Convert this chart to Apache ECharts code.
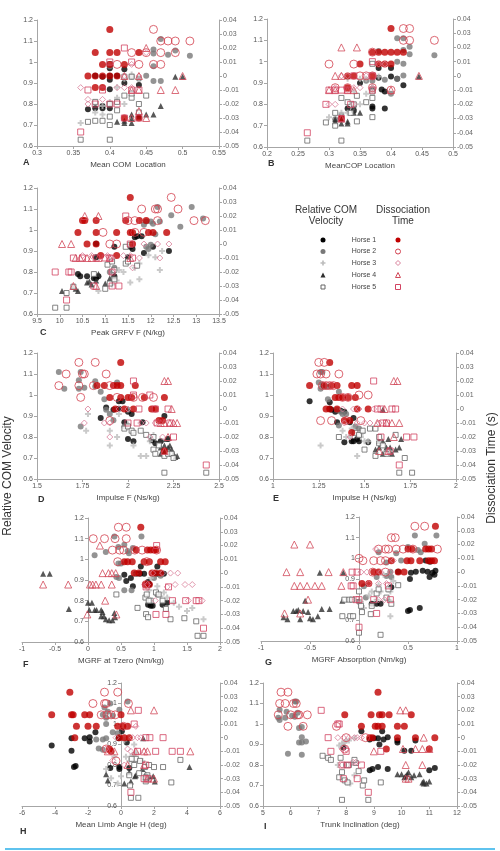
<!DOCTYPE html>
<html>
<head>
<meta charset="utf-8">
<script src="https://cdn.jsdelivr.net/npm/echarts@6/dist/echarts.min.js"></script>
<style>
html, body { margin: 0; padding: 0; background: #fff; }
#chart { width: 500px; height: 851px; }
</style>
</head>
<body>
<div id="chart"></div>
<script>
// ---- x axis ticks per panel: [min, max, interval] ----
const ticksA = [0.3, 0.55, 0.05], ticksB = [0.2, 0.5, 0.05], ticksC = [9.5, 13.5, 0.5]
const ticksD = [1.5, 2.5, 0.25], ticksE = [1, 2, 0.25], ticksF = [-1, 2, 0.5]
const ticksG = [-1, 1, 0.5], ticksH = [-6, 6, 2], ticksI = [5, 12, 1]
const velTicks = [0.6, 1.2, 0.1]       // Relative COM Velocity (left)
const timeTicks = [-0.05, 0.04, 0.01]  // Dissociation Time (right)

const xNames = ['Mean COM  Location', 'MeanCOP Location', 'Peak GRFV F (N/kg)', 'Impulse F (Ns/kg)',
  'Impulse H (Ns/kg)', 'MGRF at Tzero (Nm/kg)', 'MGRF Absorption (Nm/kg)', 'Mean Limb Angle H (deg)', 'Trunk Inclination (deg)']
const letters = ['A', 'B', 'C', 'D', 'E', 'F', 'G', 'H', 'I']
const horses = ['Horse 1', 'Horse 2', 'Horse 3', 'Horse 4', 'Horse 5']

// ---- A: Mean COM location ----
const aV1 = [[0.38,0.78],[0.37,0.775],[0.39,0.79],[0.39,0.78],[0.40,0.78],[0.38,0.935],[0.40,0.935],[0.40,0.915],[0.40,0.87],[0.40,0.97],[0.42,0.965],[0.42,0.90],[0.44,0.89],[0.41,0.935],[0.39,0.93]]
const aT1 = [[0.40,0.0333],[0.38,0.0167],[0.40,0.0167],[0.41,0.0167],[0.44,0.0167],[0.39,0.0083],[0.40,0.0083],[0.42,0.0083],[0.37,0],[0.38,0],[0.39,0],[0.40,0],[0.41,0],[0.38,-0.0083],[0.39,-0.0083],[0.42,-0.03],[0.44,-0.03]]
const aV2 = [[0.46,1.06],[0.46,1.04],[0.47,1.11],[0.49,1.055],[0.51,1.03],[0.48,1.035],[0.46,0.98],[0.45,0.935],[0.46,0.91],[0.47,0.91],[0.44,0.92],[0.43,0.93],[0.40,0.98]]
const aT2 = [[0.46,0.0333],[0.47,0.025],[0.48,0.025],[0.49,0.025],[0.51,0.025],[0.43,0.0167],[0.45,0.0167],[0.47,0.0167],[0.49,0.0167],[0.44,0.0083],[0.46,0.0083],[0.47,0.0083],[0.41,0.0083]]
const aV3 = [[0.36,0.71],[0.39,0.75],[0.38,0.76],[0.40,0.81],[0.41,0.83],[0.42,0.80],[0.42,0.92],[0.43,0.94],[0.44,0.92],[0.41,0.88],[0.39,0.79]]
const aT3 = [[0.36,-0.0083],[0.37,-0.0167],[0.39,-0.0167],[0.41,-0.0083],[0.42,-0.0083],[0.43,-0.0083],[0.44,0],[0.45,0.0167],[0.42,0],[0.43,0.0083],[0.37,-0.02]]
const aV4 = [[0.41,0.715],[0.42,0.71],[0.42,0.72],[0.43,0.73],[0.43,0.75],[0.44,0.75],[0.45,0.75],[0.46,0.75],[0.47,0.79],[0.49,0.93],[0.50,0.93],[0.44,0.74],[0.43,0.71]]
const aT4 = [[0.42,0],[0.43,-0.01],[0.44,-0.01],[0.44,0],[0.45,0.02],[0.47,-0.01],[0.49,-0.01],[0.50,0],[0.45,-0.03],[0.43,-0.03],[0.44,-0.025]]
const aV5 = [[0.36,0.63],[0.37,0.715],[0.38,0.72],[0.39,0.72],[0.40,0.70],[0.40,0.74],[0.40,0.63],[0.38,0.81],[0.41,0.77],[0.41,0.81],[0.42,0.84],[0.43,0.83],[0.44,0.76],[0.44,0.80],[0.45,0.84],[0.42,0.93],[0.43,0.93],[0.43,0.85],[0.40,0.80],[0.40,0.99]]
const aT5 = [[0.36,-0.04],[0.37,-0.01],[0.38,-0.02],[0.40,-0.02],[0.41,-0.02],[0.42,0.02],[0.43,0.01],[0.43,-0.01],[0.44,-0.01],[0.40,0.01],[0.42,-0.03],[0.44,-0.03],[0.39,-0.01]]

// ---- B: Mean COP location ----
const bV1 = [[0.33,0.78],[0.34,0.77],[0.35,0.90],[0.37,0.79],[0.37,0.78],[0.37,0.87],[0.38,0.97],[0.385,0.87],[0.39,0.78],[0.38,0.925],[0.40,0.93],[0.40,0.97],[0.41,0.92],[0.42,0.89],[0.39,0.86]]
const bT1 = [[0.40,0.0333],[0.37,0.0167],[0.38,0.0167],[0.39,0.0167],[0.40,0.0167],[0.41,0.0167],[0.42,0.0167],[0.35,0.0083],[0.38,0.0083],[0.39,0.0083],[0.40,0.0083],[0.33,0],[0.34,0],[0.37,0],[0.33,-0.0083],[0.32,-0.03]]
const bV2 = [[0.41,1.11],[0.42,1.11],[0.43,1.07],[0.42,1.055],[0.38,1.05],[0.41,1.0],[0.42,0.99],[0.43,1.035],[0.47,1.03],[0.39,0.915],[0.41,0.92],[0.42,0.935],[0.40,0.85],[0.36,0.91],[0.37,0.91],[0.31,0.73],[0.32,0.75]]
const bT2 = [[0.42,0.0333],[0.43,0.0333],[0.42,0.025],[0.43,0.025],[0.47,0.025],[0.37,0.0167],[0.30,0.0083],[0.34,0.0083],[0.35,0],[0.36,0],[0.37,0],[0.33,-0.0083],[0.31,-0.0083],[0.37,-0.0083],[0.40,-0.01]]
const bV3 = [[0.30,0.74],[0.32,0.76],[0.33,0.76],[0.34,0.79],[0.35,0.80],[0.36,0.85],[0.33,0.92],[0.35,0.92],[0.37,0.88],[0.38,0.93],[0.34,0.86],[0.36,0.92]]
const bT3 = [[0.30,-0.02],[0.31,-0.02],[0.31,-0.0083],[0.32,0],[0.33,0],[0.34,-0.0083],[0.35,-0.0083],[0.36,0],[0.37,-0.0083],[0.38,0.0083],[0.39,0.0083],[0.34,-0.02]]
const bV4 = [[0.31,0.72],[0.32,0.71],[0.33,0.71],[0.33,0.72],[0.34,0.76],[0.34,0.79],[0.35,0.76],[0.31,0.73],[0.32,0.73],[0.445,0.93],[0.34,0.80]]
const bT4 = [[0.32,0.02],[0.345,0.02],[0.31,0],[0.32,0],[0.33,-0.01],[0.31,-0.01],[0.34,-0.01],[0.30,-0.01],[0.445,0],[0.40,-0.01],[0.32,-0.03]]
const bV5 = [[0.265,0.63],[0.295,0.715],[0.31,0.70],[0.31,0.76],[0.32,0.63],[0.32,0.83],[0.33,0.81],[0.34,0.80],[0.345,0.84],[0.345,0.72],[0.36,0.81],[0.37,0.74],[0.37,0.83],[0.37,0.86],[0.37,0.99],[0.335,0.76]]
const bT5 = [[0.265,-0.04],[0.295,-0.02],[0.30,-0.01],[0.31,-0.01],[0.32,-0.01],[0.33,-0.01],[0.335,-0.02],[0.37,0.01],[0.37,0],[0.34,0],[0.37,-0.01],[0.32,-0.03]]

// ---- C: Peak GRFV F ----
const cV1 = [[10.4,0.79],[10.45,0.78],[10.6,0.78],[10.75,0.77],[10.8,0.77],[10.85,0.78],[10.8,0.87],[10.8,0.935],[11.2,0.92],[11.5,0.87],[11.55,0.92],[11.6,0.91],[11.7,0.97],[11.65,0.965],[11.8,0.97],[11.85,0.89],[12.05,0.92],[12.4,0.90],[11.2,0.78]]
const cT1 = [[11.55,0.0333],[10.5,0.0167],[10.55,0.0167],[10.8,0.0167],[11.45,0.0167],[11.75,0.0167],[11.9,0.0167],[10.4,0.0083],[10.8,0.0083],[11.25,0.0083],[11.55,0.0083],[11.6,0.0083],[11.95,0.0083],[12.05,0.0083],[12.35,0.0083],[10.6,0],[10.8,0],[11.6,0],[10.9,-0.0083],[11.25,-0.0083]]
const cV2 = [[12.15,1.11],[12.9,1.11],[13.15,1.055],[12.45,1.07],[12.65,1.015],[12.0,1.04],[12.05,1.03],[11.9,1.04],[11.85,1.025],[12.1,0.98],[12.2,1.04],[11.9,0.92],[11.95,0.91],[12.0,0.93],[11.1,0.80],[11.2,0.82]]
const cT2 = [[12.45,0.0333],[11.8,0.025],[12.1,0.025],[12.15,0.025],[12.6,0.025],[12.95,0.0167],[13.2,0.0167],[11.65,0.0167],[12.15,0.0167],[11.5,0.0167],[10.95,0.0083],[11.65,0.0083],[11.85,0.0083],[11.1,0],[11.25,0]]
const cV3 = [[10.85,0.71],[11.15,0.74],[11.25,0.76],[11.55,0.75],[11.75,0.765],[12.2,0.81],[11.3,0.81],[11.4,0.80],[11.65,0.82],[11.75,0.84],[12.1,0.87],[12.25,0.90],[11.95,0.88]]
const cT3 = [[10.7,-0.0083],[10.5,-0.0083],[11.05,-0.0083],[11.4,-0.0083],[11.15,-0.01],[11.6,-0.017],[11.75,-0.01],[11.85,0],[12.15,0],[12.2,-0.01],[12.4,0],[11.15,-0.02],[11.55,-0.0083]]
const cV4 = [[10.05,0.71],[10.3,0.73],[10.35,0.72],[10.4,0.71],[10.6,0.75],[10.65,0.755],[10.7,0.74],[10.8,0.76],[10.85,0.79],[11.0,0.745],[11.1,0.77],[11.2,0.78]]
const cT4 = [[10.55,0.02],[10.85,0.02],[10.05,0],[10.25,0],[10.35,-0.01],[10.45,-0.01],[10.6,-0.01],[10.7,-0.01],[10.85,-0.01],[11.1,-0.01],[11.55,-0.01],[10.3,-0.03],[10.8,-0.03]]
const cV5 = [[9.9,0.63],[10.15,0.63],[10.15,0.70],[10.3,0.73],[10.75,0.79],[11.0,0.72],[11.1,0.745],[11.05,0.835],[11.15,0.85],[11.2,0.81],[11.2,0.765],[11.45,0.84],[11.5,0.85],[11.7,0.83],[11.45,0.92],[11.55,0.93]]
const cT5 = [[9.9,-0.02],[10.15,-0.04],[10.2,-0.02],[10.25,-0.02],[10.3,-0.01],[10.5,-0.01],[10.8,-0.01],[11.0,-0.01],[11.1,-0.01],[10.75,-0.03],[11.15,-0.03],[11.3,-0.03],[11.45,0.02],[11.55,0],[11.15,-0.02],[11.6,-0.01]]

// ---- D: Impulse F ----
const dV1 = [[1.85,0.89],[1.88,0.94],[1.92,0.93],[1.95,0.935],[1.95,0.97],[1.97,0.97],[2.0,0.92],[2.02,0.91],[1.98,0.87],[2.0,0.79],[2.03,0.78],[2.08,0.87],[2.13,0.785],[2.18,0.78],[2.2,0.90],[2.22,0.79],[2.15,0.77]]
const dT1 = [[1.96,0.0333],[1.83,0.0167],[1.87,0.0167],[1.92,0.0167],[1.94,0.0167],[1.96,0.0167],[2.04,0.0167],[1.9,0.0083],[1.96,0.0083],[2.0,0.0083],[2.02,0.0083],[2.09,0.0083],[2.2,0.0083],[1.93,0],[1.98,0],[2.03,0],[2.13,0],[2.15,0],[2.17,-0.0083],[2.19,-0.0083],[2.2,-0.03]]
const dV2 = [[1.62,1.11],[1.65,1.03],[1.73,1.07],[1.74,1.11],[1.73,1.03],[1.76,1.035],[1.82,1.065],[1.82,1.04],[1.85,1.015],[1.87,0.98],[1.94,1.06],[1.74,0.85],[1.88,0.93],[1.9,0.91],[1.98,0.85],[2.0,0.93],[1.92,0.88]]
const dT2 = [[1.73,0.0333],[1.82,0.0333],[1.66,0.025],[1.75,0.025],[1.76,0.025],[1.88,0.025],[1.62,0.0167],[1.73,0.0167],[1.81,0.0167],[1.9,0.0167],[1.74,0.0083],[1.94,0.0083],[2.03,0.0083],[2.08,0.0083],[2.14,0.0083],[1.9,-0.0083]]
const dV3 = [[1.77,0.83],[1.78,0.91],[1.9,0.83],[1.9,0.76],[1.94,0.80],[2.03,0.76],[2.07,0.71],[2.1,0.71],[2.12,0.78],[1.95,0.91],[2.0,0.86],[2.14,0.81]]
const dT3 = [[1.78,0],[1.76,-0.01],[1.87,-0.01],[1.9,-0.01],[1.9,-0.02],[2.0,0],[2.07,-0.01],[2.1,-0.01],[2.12,-0.02],[2.15,-0.01],[2.19,-0.02],[1.95,0]]
const dV4 = [[2.18,0.72],[2.2,0.73],[2.22,0.75],[2.23,0.76],[2.25,0.72],[2.26,0.705],[2.27,0.71],[2.2,0.76],[2.18,0.75],[2.21,0.79],[2.24,0.74]]
const dT4 = [[2.2,0.02],[2.22,0.02],[2.24,0],[2.18,-0.01],[2.2,-0.01],[2.23,-0.01],[2.25,-0.01],[2.27,-0.01],[2.2,-0.03],[2.22,-0.02]]
const dV5 = [[1.98,0.84],[2.0,0.85],[2.02,0.83],[2.03,0.82],[2.07,0.83],[2.1,0.81],[2.14,0.74],[2.15,0.72],[2.17,0.76],[2.2,0.71],[2.2,0.63],[2.22,0.72],[2.24,0.72],[2.25,0.70],[2.43,0.63],[2.14,0.80]]
const dT5 = [[2.03,0.02],[2.03,0.01],[2.06,0],[2.12,0.01],[2.15,0],[2.16,-0.01],[2.22,0],[2.23,-0.01],[2.25,-0.02],[2.43,-0.04],[2.05,-0.01],[2.0,-0.01]]

// ---- E: Impulse H ----
const eV1 = [[1.2,0.97],[1.31,0.965],[1.31,0.935],[1.34,0.92],[1.35,0.87],[1.37,0.925],[1.39,0.92],[1.42,0.87],[1.44,0.89],[1.39,0.775],[1.43,0.78],[1.44,0.78],[1.46,0.79],[1.47,0.78],[1.52,0.775],[1.32,0.93]]
const eT1 = [[1.31,0.0333],[1.2,0.0167],[1.28,0.0167],[1.32,0.0167],[1.35,0.0167],[1.43,0.0167],[1.46,0.0167],[1.34,0.0083],[1.36,0.0083],[1.38,0.0083],[1.41,0.0083],[1.45,0.0083],[1.29,0],[1.31,0],[1.35,0],[1.46,0],[1.52,0],[1.39,-0.0083],[1.42,-0.0083],[1.43,-0.0167]]
const eV2 = [[1.26,1.11],[1.27,1.11],[1.25,1.06],[1.27,1.05],[1.28,1.04],[1.26,1.03],[1.3,1.04],[1.36,1.015],[1.3,0.98],[1.35,0.93],[1.37,0.92],[1.38,0.91],[1.4,0.91],[1.36,0.855],[1.45,0.85],[1.47,0.84]]
const eT2 = [[1.25,0.0333],[1.28,0.0333],[1.24,0.025],[1.26,0.025],[1.29,0.025],[1.36,0.025],[1.27,0.0167],[1.29,0.0167],[1.31,0.0167],[1.33,0.0167],[1.38,0.0083],[1.41,0.0083],[1.47,0.01],[1.52,0.01],[1.26,-0.0083],[1.32,-0.0083],[1.4,-0.0083],[1.48,-0.0083]]
const eV3 = [[1.26,0.76],[1.38,0.83],[1.4,0.8],[1.42,0.8],[1.44,0.82],[1.46,0.71],[1.48,0.8],[1.5,0.78],[1.52,0.78],[1.43,0.84],[1.49,0.82]]
const eT3 = [[1.38,0],[1.44,0],[1.47,0],[1.39,-0.01],[1.46,-0.01],[1.5,-0.01],[1.53,-0.01],[1.42,-0.02],[1.58,-0.01],[1.55,0]]
const eV4 = [[1.56,0.74],[1.58,0.75],[1.6,0.78],[1.6,0.93],[1.62,0.75],[1.63,0.79],[1.64,0.75],[1.65,0.72],[1.67,0.74],[1.69,0.75],[1.7,0.79],[1.6,0.72],[1.58,0.78]]
const eT4 = [[1.66,0.02],[1.68,0.02],[1.61,0],[1.57,-0.01],[1.62,-0.01],[1.65,-0.01],[1.69,-0.01],[1.58,-0.03],[1.63,-0.03],[1.66,-0.02]]
const eV5 = [[1.36,0.8],[1.45,0.82],[1.47,0.81],[1.49,0.83],[1.5,0.74],[1.53,0.84],[1.56,0.84],[1.58,0.80],[1.58,0.77],[1.6,0.76],[1.63,0.73],[1.67,0.81],[1.69,0.63],[1.72,0.70],[1.76,0.63],[1.62,0.72],[1.56,0.71]]
const eT5 = [[1.55,0.02],[1.57,0],[1.59,0],[1.62,-0.01],[1.65,0],[1.67,0],[1.59,-0.02],[1.69,-0.04],[1.73,-0.02],[1.77,-0.02],[1.64,-0.03],[1.6,-0.01]]

// ---- F: MGRF at Tzero ----
const fV1 = [[0.55,0.925],[0.58,0.895],[0.65,0.91],[0.68,0.87],[0.73,0.93],[0.8,0.965],[0.85,0.93],[0.91,0.89],[0.93,0.88],[0.91,0.78],[0.95,0.775],[0.98,0.775],[1.05,0.965],[1.05,0.93],[1.15,0.93],[1.13,0.78],[1.2,0.79],[0.79,0.93]]
const fT1 = [[0.8,0.0333],[0.73,0.0167],[0.9,0.0167],[0.95,0.0167],[1.0,0.0167],[1.03,0.0167],[0.55,0.0083],[0.6,0.0083],[0.67,0.0083],[0.85,0.0083],[0.93,0.0083],[1.1,0.0083],[1.17,0.0083],[0.7,0],[0.77,0],[0.97,0],[1.02,0],[1.1,0],[0.93,-0.0083],[0.87,-0.0083]]
const fV2 = [[0.1,1.02],[0.27,1.035],[0.4,1.11],[0.46,1.06],[0.55,1.07],[0.6,1.04],[0.62,1.03],[0.68,1.055],[0.81,1.11],[0.46,0.98],[0.5,0.98],[0.43,0.915],[0.47,0.91],[0.55,0.85],[0.66,0.85],[1.0,0.91],[1.05,0.83],[1.1,0.92]]
const fT2 = [[0.46,0.0333],[0.58,0.0333],[0.08,0.025],[0.25,0.025],[0.41,0.025],[0.58,0.025],[0.37,0.0167],[0.48,0.0167],[0.54,0.0167],[0.71,0.0167],[0.82,0.0167],[1.04,0.0167],[0.45,0.0083],[0.89,0.0083],[0.88,-0.0083]]
const fV3 = [[0.72,0.93],[0.95,0.91],[1.05,0.87],[1.15,0.84],[1.2,0.815],[1.3,0.79],[1.38,0.77],[1.5,0.75],[1.58,0.765],[1.75,0.71],[1.1,0.82],[0.93,0.85]]
const fT3 = [[0.98,0],[1.13,0],[1.25,0],[1.36,0],[1.2,-0.01],[1.32,-0.0083],[1.47,-0.0083],[1.58,-0.0083],[1.52,-0.02],[1.73,-0.02],[1.02,-0.02],[0.9,-0.0083]]
const fV4 = [[-0.68,0.93],[-0.58,0.93],[-0.29,0.76],[0.0,0.79],[0.06,0.79],[0.02,0.755],[0.1,0.755],[0.13,0.755],[0.2,0.755],[0.22,0.745],[0.2,0.725],[0.24,0.725],[0.27,0.71],[0.32,0.705],[0.37,0.705],[0.41,0.72],[0.4,0.74]]
const fT4 = [[-0.68,-0.0083],[-0.3,-0.0083],[0.03,-0.0083],[0.07,-0.0083],[0.12,-0.0083],[0.2,-0.0083],[0.36,-0.0083],[0.18,0.02],[0.22,0],[0.31,0],[0.36,0],[0.42,0],[-0.01,-0.03],[0.26,-0.02],[0.43,-0.03]]
const fV5 = [[0.43,0.83],[0.75,0.765],[0.87,0.815],[0.89,0.83],[0.88,0.735],[0.91,0.72],[1.03,0.84],[1.07,0.83],[1.13,0.80],[1.18,0.76],[1.25,0.71],[1.46,0.715],[1.64,0.70],[1.66,0.63],[1.75,0.63],[0.95,0.8],[0.92,0.8]]
const fT5 = [[1.04,0.02],[1.22,-0.01],[1.28,-0.02],[1.48,-0.02],[1.64,-0.02],[1.68,-0.02],[1.75,-0.04],[1.03,-0.03],[1.18,-0.03],[0.88,-0.01]]

// ---- G: MGRF absorption ----
const gV1 = [[0.13,0.78],[0.18,0.78],[0.22,0.78],[0.33,0.86],[0.4,0.935],[0.5,0.745],[0.52,0.75],[0.52,0.9],[0.58,0.935],[0.62,0.76],[0.65,0.94],[0.68,0.99],[0.7,0.935],[0.72,0.985],[0.72,0.91],[0.73,0.985],[0.75,0.93],[0.78,0.94],[0.77,0.92],[0.53,0.93]]
const gT1 = [[0.78,0.0333],[0.5,0.0167],[0.54,0.0167],[0.68,0.0167],[0.71,0.0167],[0.74,0.0167],[0.33,0.0083],[0.49,0.0083],[0.53,0.0083],[0.62,0.0083],[0.71,0.0083],[0.74,0.0083],[0.77,0.0083],[0.15,0],[0.2,0],[0.4,0],[0.46,0],[0.03,-0.0083],[0.1,-0.0083]]
const gV2 = [[0.57,1.11],[0.79,1.11],[0.67,1.07],[0.5,1.055],[0.6,1.04],[0.63,1.03],[0.38,1.025],[0.2,1.03],[0.28,0.98],[0.43,0.99],[0.32,0.935],[0.28,0.915],[0.33,0.91],[0.18,0.91],[0.05,0.865],[0.0,0.79],[0.07,0.81]]
const gT2 = [[0.57,0.0333],[0.67,0.0333],[0.33,0.025],[0.37,0.025],[0.2,0.0167],[0.27,0.0167],[0.3,0.0167],[0.38,0.0167],[0.45,0.0167],[0.55,0.0167],[0.8,0.0167],[0.0,0.01],[0.04,0.0083],[0.15,0.0083],[0.22,0.0083],[0.27,0.0083],[0.14,0],[0.27,0]]
const gV3 = [[0.02,0.79],[0.05,0.76],[0.1,0.82],[0.13,0.84],[0.18,0.8],[0.22,0.84],[0.3,0.8],[0.32,0.84],[0.35,0.89],[0.32,0.72],[0.2,0.87],[0.25,0.92]]
const gT3 = [[0.02,0],[0.08,0],[0.1,-0.0083],[0.2,-0.0083],[0.22,0],[0.28,-0.0083],[0.32,0],[0.2,-0.02],[0.26,-0.02],[0.35,0.0083],[0.17,0.0167]]
const gV4 = [[-0.77,0.715],[-0.73,0.705],[-0.67,0.745],[-0.64,0.745],[-0.6,0.705],[-0.57,0.745],[-0.55,0.795],[-0.52,0.74],[-0.5,0.71],[-0.47,0.705],[-0.42,0.72],[-0.38,0.755],[-0.3,0.755],[-0.4,0.93],[-0.16,0.93],[-0.17,0.795],[-0.62,0.75]]
const gT4 = [[-0.66,0.02],[-0.5,0.02],[-0.74,0],[-0.6,0],[-0.31,0],[-0.16,0],[-0.66,-0.01],[-0.6,-0.01],[-0.53,-0.01],[-0.45,-0.01],[-0.38,-0.01],[-0.18,-0.01],[-0.52,-0.02],[-0.76,-0.03],[-0.6,-0.03]]
const gV5 = [[-0.1,0.8],[-0.07,0.8],[-0.15,0.8],[-0.09,0.72],[-0.06,0.72],[-0.17,0.72],[0.0,0.84],[0.02,0.77],[0.03,0.74],[0.12,0.73],[0.13,0.77],[0.18,0.83],[0.2,0.85],[0.22,0.63],[0.28,0.81],[0.3,0.85],[0.4,0.87],[0.33,0.78],[0.0,0.64]]
const gT5 = [[-0.06,-0.01],[-0.08,-0.01],[0.0,-0.02],[-0.03,-0.02],[-0.07,0],[-0.02,0],[0.0,-0.04],[0.15,-0.02],[0.18,-0.03],[0.32,-0.02],[0.3,-0.01]]

// ---- H: Mean limb angle H ----
const hV1 = [[-4.2,0.895],[-3.0,0.93],[-3.0,0.87],[-2.85,0.79],[-2.75,0.795],[-2.2,0.93],[-1.9,0.935],[-1.9,0.915],[-1.55,0.96],[-0.65,0.785],[-0.1,0.78],[-0.1,0.79],[0.05,0.965],[0.5,0.785],[0.35,0.91],[-0.15,0.93]]
const hT1 = [[-3.1,0.0333],[-4.2,0.0167],[-3.0,0.0167],[-2.9,0.0167],[-2.2,0.0167],[-1.9,0.0167],[0.0,0.0167],[-2.7,0.0083],[-2.0,0.0083],[-1.5,0.0083],[-0.2,0.0083],[0.1,0.0083],[0.4,0.0083],[-2.8,0],[-0.1,0],[0.2,0],[0.5,0],[-0.7,-0.0083],[-0.6,-0.01]]
const hV2 = [[0.4,1.11],[-0.65,1.1],[-1.0,1.08],[-0.8,1.06],[-0.5,1.04],[-1.1,1.045],[-0.9,1.03],[-0.1,1.07],[-1.5,0.925],[-1.1,0.925],[-1.35,0.88],[-1.1,0.875],[-0.9,1.0],[-0.2,0.955],[-0.5,0.96],[-0.9,0.93]]
const hT2 = [[-1.0,0.0333],[-0.2,0.0333],[-1.7,0.025],[-1.0,0.025],[-0.9,0.025],[0.45,0.025],[-1.2,0.0167],[-0.6,0.0167],[-0.85,0.0167],[-0.35,0.0167],[-0.9,-0.0083],[-0.3,-0.017],[0.15,0.0083]]
const hV3 = [[-0.9,0.78],[-0.6,0.735],[-0.2,0.71],[0.0,0.745],[0.3,0.84],[0.5,0.82],[0.7,0.85],[0.9,0.86],[1.3,0.82],[-0.4,0.84],[0.8,0.9],[0.2,0.92]]
const hT3 = [[-0.9,-0.0083],[-0.5,-0.0167],[0.4,-0.0083],[0.6,-0.01],[0.9,0.0083],[0.7,0],[1.0,0],[1.2,0],[1.4,-0.01],[0.2,-0.02],[-0.3,0]]
const hV4 = [[-0.9,0.755],[-0.8,0.725],[0.2,0.71],[0.5,0.765],[0.6,0.72],[0.85,0.745],[0.9,0.75],[1.3,0.78],[1.5,0.755],[1.55,0.735],[1.7,0.745],[1.95,0.745],[2.05,0.72],[4.15,0.79],[1.35,0.93]]
const hT4 = [[0.6,0.02],[2.0,0.02],[-0.8,-0.01],[-0.4,-0.01],[0.9,-0.01],[1.4,-0.01],[1.6,-0.01],[4.2,-0.01],[1.6,-0.03],[2.0,-0.03],[0.4,-0.02],[1.4,-0.02]]
const hV5 = [[0.6,0.64],[1.05,0.64],[0.5,0.75],[0.55,0.7],[0.8,0.8],[0.9,0.83],[1.15,0.82],[1.45,0.79],[1.5,0.72],[1.6,0.75],[1.7,0.8],[2.0,0.79],[2.55,0.79],[3.05,0.715],[3.6,0.825],[1.5,0.74],[0.65,0.83],[1.1,0.76]]
const hT5 = [[1.05,0.02],[0.8,0.01],[1.5,0],[1.75,0],[2.55,0],[2.1,-0.01],[3.1,-0.01],[3.6,-0.01],[1.5,-0.02],[1.65,-0.03],[0.6,-0.04],[1.4,-0.03],[1.0,-0.01]]

// ---- I: Trunk inclination ----
const iV1 = [[8.55,0.965],[8.85,0.925],[9.0,0.93],[9.15,0.93],[9.2,0.90],[9.3,0.965],[9.35,0.925],[9.5,0.935],[9.85,0.92],[9.85,0.91],[10.1,0.87],[10.35,0.87],[10.5,0.92],[8.85,0.775],[8.95,0.78],[9.15,0.79],[9.5,0.78],[11.0,0.775],[11.2,0.785],[7.9,0.885]]
const iT1 = [[9.15,0.0333],[7.95,0.0167],[8.9,0.0167],[9.2,0.0167],[9.3,0.0167],[9.55,0.0167],[10.35,0.0167],[8.55,0.0083],[9.05,0.0083],[9.15,0.0083],[9.3,0.0083],[9.85,0.0083],[10.1,0.0083],[8.85,0],[8.95,0],[9.85,0],[10.5,0],[11.2,0],[9.45,-0.0083],[11.0,-0.0083]]
const iV2 = [[5.6,1.07],[5.55,1.03],[5.6,1.02],[5.8,1.03],[5.85,1.06],[6.15,1.11],[6.2,1.11],[6.05,1.04],[6.25,1.055],[6.3,0.98],[6.4,0.985],[6.4,0.935],[6.3,0.91],[6.4,0.91],[6.55,0.915],[5.9,0.855],[6.4,0.85],[6.15,1.035]]
const iT2 = [[5.65,0.0333],[5.9,0.0333],[5.6,0.025],[5.8,0.025],[6.1,0.025],[6.2,0.025],[5.55,0.0167],[6.0,0.0167],[6.3,0.0167],[6.6,0.0167],[5.9,0.0083],[6.45,0.0083],[7.65,0.0083],[7.95,-0.0083],[8.7,0],[8.0,0],[6.25,0.0167]]
const iV3 = [[7.75,0.895],[7.85,0.905],[7.95,0.91],[8.0,0.92],[8.1,0.92],[8.3,0.93],[7.7,0.80],[8.2,0.81],[8.4,0.81],[8.3,0.75],[8.05,0.715],[8.15,0.71]]
const iT3 = [[7.7,0],[7.9,0],[8.1,0],[8.3,0],[8.4,0],[8.55,0],[7.85,-0.0083],[8.0,-0.0083],[7.85,-0.02],[8.05,-0.02],[8.25,-0.018],[8.35,-0.018]]
const iV4 = [[9.85,0.755],[10.0,0.755],[10.1,0.74],[10.15,0.745],[10.2,0.755],[10.25,0.765],[10.35,0.74],[10.45,0.75],[10.65,0.755],[10.75,0.715],[10.8,0.71],[10.9,0.71],[11.0,0.72],[10.8,0.72]]
const iT4 = [[9.95,0.02],[10.15,0.02],[10.8,0],[9.0,-0.01],[10.05,-0.0083],[10.5,-0.0083],[10.75,-0.0083],[11.0,-0.0083],[10.75,-0.02],[10.15,-0.02],[10.15,-0.03],[10.25,-0.03]]
const iV5 = [[7.15,0.845],[7.35,0.835],[7.45,0.825],[7.75,0.74],[7.8,0.835],[7.85,0.765],[7.95,0.725],[8.0,0.80],[8.05,0.715],[7.85,0.63],[8.35,0.81],[8.45,0.77],[8.6,0.70],[8.65,0.725],[8.8,0.63],[9.25,0.715],[8.1,0.80],[8.3,0.825]]
const iT5 = [[7.1,0.02],[7.35,0],[7.45,-0.01],[7.7,0.01],[7.75,0.01],[7.85,-0.02],[7.9,-0.03],[8.0,-0.01],[8.4,-0.03],[8.55,-0.02],[8.8,-0.04],[9.25,-0.01],[8.05,-0.02]]

// 面板布局 (px)
const panels = [
  { ticks: ticksA, vel: [aV1, aV2, aV3, aV4, aV5], time: [aT1, aT2, aT3, aT4, aT5], grid: [37, 20, 182, 126], letter: [23, 163] },
  { ticks: ticksB, vel: [bV1, bV2, bV3, bV4, bV5], time: [bT1, bT2, bT3, bT4, bT5], grid: [267, 19, 186, 128], letter: [268, 164] },
  { ticks: ticksC, vel: [cV1, cV2, cV3, cV4, cV5], time: [cT1, cT2, cT3, cT4, cT5], grid: [37, 188, 182, 126], letter: [40, 333] },
  { ticks: ticksD, vel: [dV1, dV2, dV3, dV4, dV5], time: [dT1, dT2, dT3, dT4, dT5], grid: [37, 353, 182, 126], letter: [38, 500] },
  { ticks: ticksE, vel: [eV1, eV2, eV3, eV4, eV5], time: [eT1, eT2, eT3, eT4, eT5], grid: [273, 353, 183, 126], letter: [273, 499] },
  { ticks: ticksF, vel: [fV1, fV2, fV3, fV4, fV5], time: [fT1, fT2, fT3, fT4, fT5], grid: [22, 518, 198, 124], letter: [23, 665], zeroAxis: true },
  { ticks: ticksG, vel: [gV1, gV2, gV3, gV4, gV5], time: [gT1, gT2, gT3, gT4, gT5], grid: [261, 517, 196, 124], letter: [265, 663], zeroAxis: true },
  { ticks: ticksH, vel: [hV1, hV2, hV3, hV4, hV5], time: [hT1, hT2, hT3, hT4, hT5], grid: [22, 683, 198, 123], letter: [20, 832], zeroAxis: true },
  { ticks: ticksI, vel: [iV1, iV2, iV3, iV4, iV5], time: [iT1, iT2, iT3, iT4, iT5], grid: [263, 683, 194, 123], letter: [264, 827] }
]

const FONT = '"Liberation Sans", Arial, sans-serif'
const plusPath = 'path://M2,0H4V2H6V4H4V6H2V4H0V2H2Z'
const hollow = c => ({ color: 'rgba(255,255,255,0)', borderColor: c, borderWidth: 1 })

// 标记样式
const velStyle = [
  { symbol: 'circle', symbolSize: 6, itemStyle: { color: '#000' } },
  { symbol: 'circle', symbolSize: 6, itemStyle: { color: '#787878' } },
  { symbol: plusPath, symbolSize: 6, itemStyle: { color: '#bdbdbd' } },
  { symbol: 'triangle', symbolSize: 6, itemStyle: { color: '#2e2e2e' } },
  { symbol: 'rect', symbolSize: 5, itemStyle: { color: '#fff', borderColor: '#666', borderWidth: 1 } }
]
const timeStyle = [
  { symbol: 'circle', symbolSize: 7, itemStyle: { color: '#c00000' } },
  { symbol: 'circle', symbolSize: 8, itemStyle: hollow('#d3414f') },
  { symbol: 'diamond', symbolSize: 6, itemStyle: hollow('#d9809a') },
  { symbol: 'triangle', symbolSize: 7, itemStyle: hollow('#d24a5a') },
  { symbol: 'rect', symbolSize: 6, itemStyle: hollow('#d24462') }
]

const axisColor = '#a6a6a6'
let grids = [], xAxes = [], yAxes = [], series = [], graphics = []

panels.forEach((p, i) => {
  const [l, t, w, h] = p.grid
  grids.push({ left: l, top: t, width: w, height: h })
  xAxes.push({
    gridIndex: i, type: 'value', min: p.ticks[0], max: p.ticks[1], interval: p.ticks[2],
    axisLine: { onZero: false, lineStyle: { color: axisColor } },
    axisTick: { length: 3, lineStyle: { color: axisColor } },
    axisLabel: { fontSize: 7, color: '#555', margin: 4, fontFamily: FONT },
    splitLine: { show: false },
    name: xNames[i], nameLocation: 'middle', nameGap: 15,
    nameTextStyle: { fontSize: 8, color: '#444', fontFamily: FONT }
  })
  // 左轴放在 x=0 处 (F/G/H)
  const zeroOffset = p.zeroAxis ? -w * (0 - p.ticks[0]) / (p.ticks[1] - p.ticks[0]) : 0
  yAxes.push({
    gridIndex: i, type: 'value', position: 'left', offset: zeroOffset,
    min: velTicks[0], max: velTicks[1], interval: velTicks[2],
    axisLine: { show: true, onZero: false, lineStyle: { color: axisColor } },
    axisTick: { show: true, length: 3, lineStyle: { color: axisColor } },
    axisLabel: { fontSize: 7, color: '#555', margin: 4, fontFamily: FONT },
    splitLine: { show: false }
  })
  yAxes.push({
    gridIndex: i, type: 'value', position: 'right', min: timeTicks[0], max: timeTicks[1], interval: timeTicks[2],
    axisLine: { show: true, onZero: false, lineStyle: { color: axisColor } },
    axisTick: { show: true, length: 3, lineStyle: { color: axisColor } },
    axisLabel: { fontSize: 7, color: '#666', margin: 4, fontFamily: FONT },
    splitLine: { show: false }
  })
  p.vel.forEach((d, k) => series.push(Object.assign({
    type: 'scatter', xAxisIndex: i, yAxisIndex: i * 2, data: d, silent: true, z: 2
  }, velStyle[k])))
  p.time.forEach((d, k) => series.push(Object.assign({
    type: 'scatter', xAxisIndex: i, yAxisIndex: i * 2 + 1, data: d, silent: true, z: 3
  }, timeStyle[k])))
  graphics.push({
    type: 'text', x: p.letter[0], y: p.letter[1],
    style: { text: letters[i], font: 'bold 9px ' + FONT, fill: '#333', align: 'left', verticalAlign: 'middle' }
  })
})

// 总轴标题
graphics.push({
  type: 'text', x: 8, y: 476, rotation: Math.PI / 2,
  style: { text: 'Relative COM Velocity', font: '12px ' + FONT, fill: '#333', align: 'center', verticalAlign: 'middle' }
})
graphics.push({
  type: 'text', x: 492, y: 468, rotation: Math.PI / 2,
  style: { text: 'Dissociation Time (s)', font: '12px ' + FONT, fill: '#333', align: 'center', verticalAlign: 'middle' }
})

// 图例
graphics.push({
  type: 'text', x: 326, y: 216,
  style: { text: 'Relative COM\nVelocity', font: '10px ' + FONT, fill: '#333', align: 'center', verticalAlign: 'middle', lineHeight: 11 }
})
graphics.push({
  type: 'text', x: 403, y: 216,
  style: { text: 'Dissociation\nTime', font: '10px ' + FONT, fill: '#333', align: 'center', verticalAlign: 'middle', lineHeight: 11 }
})
const rowY = [240, 251.5, 263, 275, 287]
function legendMark(kind, cx, cy, fill, stroke, s) {
  const st = { fill: fill, stroke: stroke, lineWidth: 1 }
  if (kind === 'circle') return { type: 'circle', shape: { cx, cy, r: s / 2 }, style: st }
  if (kind === 'rect') return { type: 'rect', shape: { x: cx - s / 2, y: cy - s / 2, width: s, height: s }, style: st }
  if (kind === 'triangle') return { type: 'polygon', shape: { points: [[cx, cy - s / 2], [cx + s / 2, cy + s / 2], [cx - s / 2, cy + s / 2]] }, style: st }
  if (kind === 'diamond') return { type: 'polygon', shape: { points: [[cx, cy - s / 2], [cx + s / 2, cy], [cx, cy + s / 2], [cx - s / 2, cy]] }, style: st }
  const a = s / 6
  return { type: 'polygon', shape: { points: [[cx - a, cy - 3 * a], [cx + a, cy - 3 * a], [cx + a, cy - a], [cx + 3 * a, cy - a], [cx + 3 * a, cy + a], [cx + a, cy + a], [cx + a, cy + 3 * a], [cx - a, cy + 3 * a], [cx - a, cy + a], [cx - 3 * a, cy + a], [cx - 3 * a, cy - a], [cx - a, cy - a]] }, style: st }
}
const velKinds = ['circle', 'circle', 'plus', 'triangle', 'rect']
const timeKinds = ['circle', 'circle', 'diamond', 'triangle', 'rect']
horses.forEach((name, k) => {
  const vs = velStyle[k].itemStyle, ts = timeStyle[k].itemStyle
  graphics.push(legendMark(velKinds[k], 323, rowY[k], vs.color, vs.borderColor || null, k === 4 ? 4 : 5))
  graphics.push({
    type: 'text', x: 364, y: rowY[k],
    style: { text: name, font: '7px ' + FONT, fill: '#444', align: 'center', verticalAlign: 'middle' }
  })
  graphics.push(legendMark(timeKinds[k], 398, rowY[k], ts.color, ts.borderColor || null, 5))
})

// 底部蓝线
graphics.push({ type: 'line', shape: { x1: 5, y1: 849, x2: 495, y2: 849 }, style: { stroke: '#5fc3ee', lineWidth: 2 } })

const myChart = echarts.init(document.getElementById('chart'), null, { renderer: 'canvas' })
myChart.setOption({
  animation: false,
  backgroundColor: '#fff',
  textStyle: { fontFamily: FONT },
  grid: grids,
  xAxis: xAxes,
  yAxis: yAxes,
  series: series,
  graphic: graphics
})
</script>
</body>
</html>
